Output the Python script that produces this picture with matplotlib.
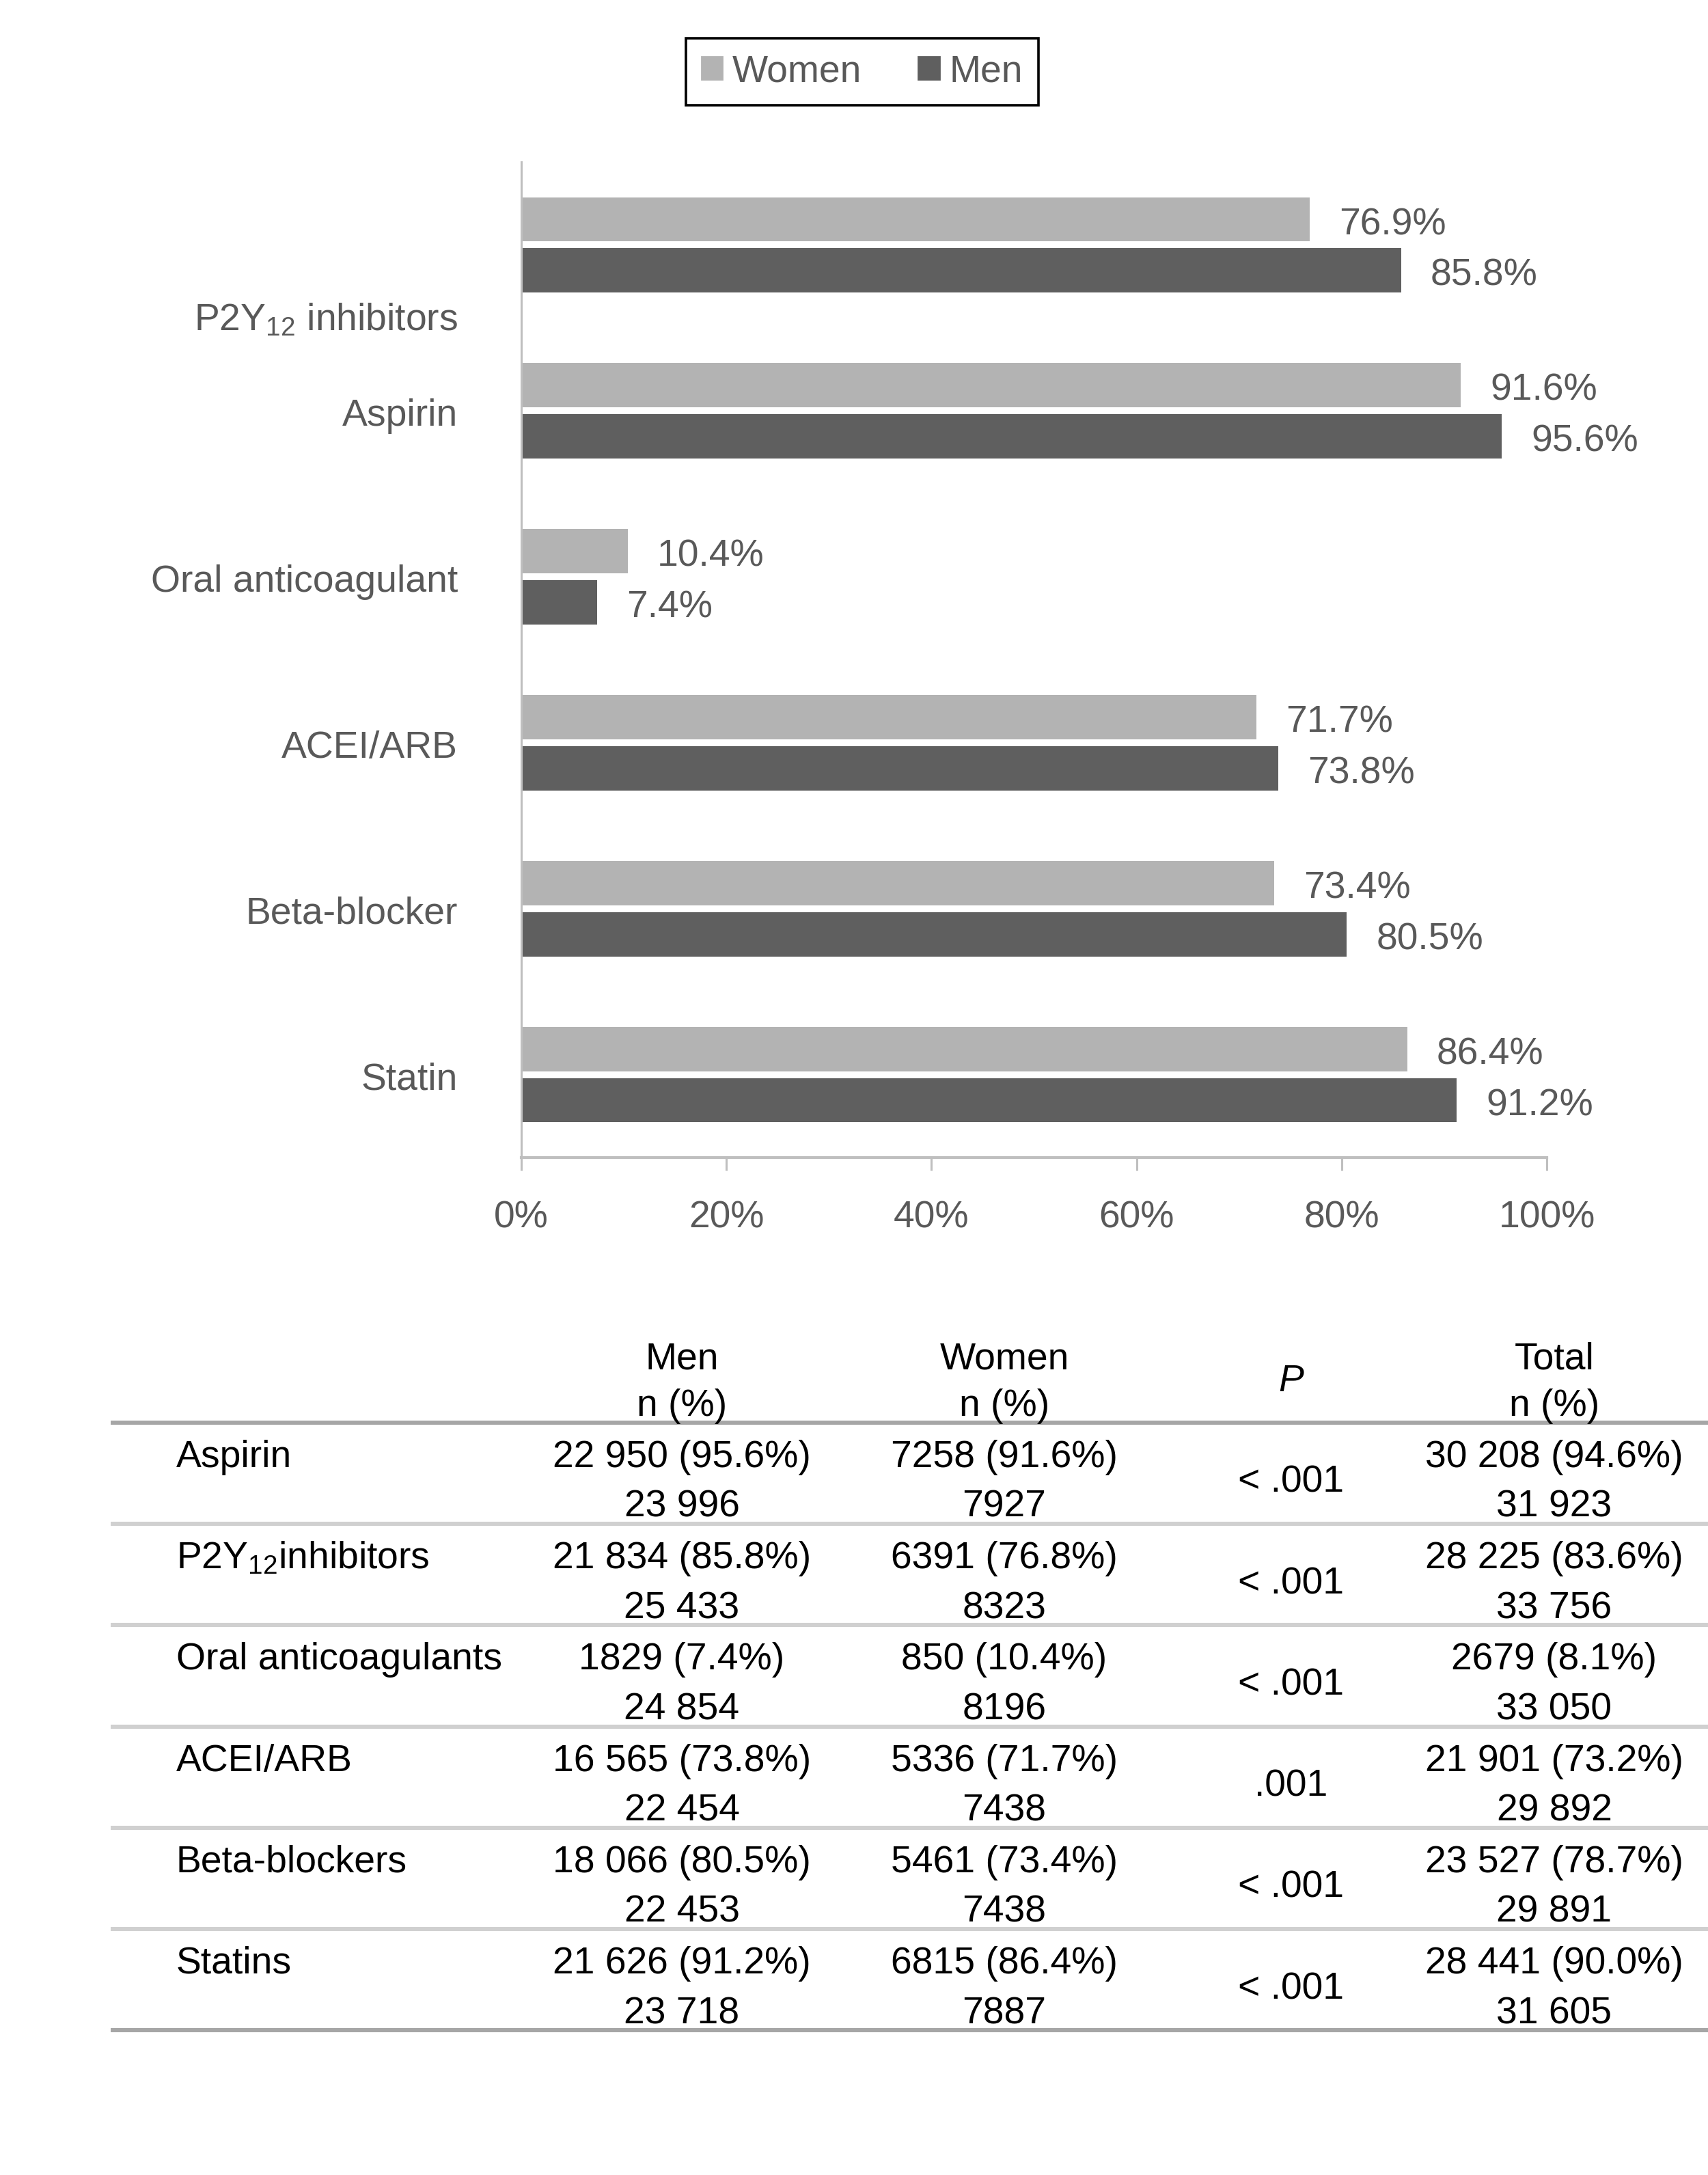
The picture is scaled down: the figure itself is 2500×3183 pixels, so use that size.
import numpy as np
import matplotlib.pyplot as plt
from matplotlib.patches import Patch

plt.rcParams['font.family'] = ['Liberation Sans', 'DejaVu Sans']
plt.rcParams['mathtext.fontset'] = 'custom'
plt.rcParams['mathtext.rm'] = 'Liberation Sans'
plt.rcParams['mathtext.it'] = 'Liberation Sans:italic'
plt.rcParams['mathtext.default'] = 'regular'

# bar chart data (top to bottom)
drugs = ["P2Y$_{12}$ inhibitors", "Aspirin", "Oral anticoagulant",
         "ACEI/ARB", "Beta-blocker", "Statin"]
women_pct = [76.9, 91.6, 10.4, 71.7, 73.4, 86.4]
men_pct = [85.8, 95.6, 7.4, 73.8, 80.5, 91.2]

# table data
tab_names = ["Aspirin", "P2Y$_{12}$inhibitors", "Oral anticoagulants",
             "ACEI/ARB", "Beta-blockers", "Statins"]
t_men_n = [22950, 21834, 1829, 16565, 18066, 21626]
t_men_p = [95.6, 85.8, 7.4, 73.8, 80.5, 91.2]
t_men_tot = [23996, 25433, 24854, 22454, 22453, 23718]
t_women_n = [7258, 6391, 850, 5336, 5461, 6815]
t_women_p = [91.6, 76.8, 10.4, 71.7, 73.4, 86.4]
t_women_tot = [7927, 8323, 8196, 7438, 7438, 7887]
t_all_n = [30208, 28225, 2679, 21901, 23527, 28441]
t_all_p = [94.6, 83.6, 8.1, 73.2, 78.7, 90.0]
t_all_tot = [31923, 33756, 33050, 29892, 29891, 31605]
p_vals = ["< .001", "< .001", "< .001", ".001", "< .001", "< .001"]

W, H = 2500, 3183
c_women = '#b3b3b3'
c_men = '#5f5f5f'
c_text = '#595959'
c_axis = '#bfbfbf'
fs = 19.9
dy = -2.9  # nudge labels down a little (points)

fig = plt.figure(figsize=(W / 200, H / 200), dpi=200)

ax = fig.add_axes([763 / W, 1 - 1694 / H, (2264 - 763) / W, (1694 - 237) / H])
y = np.arange(len(drugs))
ax.barh(y - 0.154, women_pct, height=0.267, color=c_women)
ax.barh(y + 0.154, men_pct, height=0.267, color=c_men)
ax.set_xlim(0, 100)
ax.set_ylim(len(drugs) - 0.5, -0.5)
ax.set_xticks(np.arange(0, 101, 20))
ax.set_xticklabels([f"{v}%" for v in range(0, 101, 20)])
ax.set_yticks([])
for s in ['top', 'right']:
    ax.spines[s].set_visible(False)
ax.spines['left'].set_color(c_axis)
ax.spines['left'].set_linewidth(1.1)
ax.spines['bottom'].set_color(c_axis)
ax.spines['bottom'].set_linewidth(1.5)
ax.tick_params(axis='x', direction='out', length=7, width=1.1, color=c_axis,
               labelcolor=c_text, labelsize=fs, pad=15.5)

for i, (w, m) in enumerate(zip(women_pct, men_pct)):
    ax.annotate(f"{w}%", (w, i - 0.154), xytext=(15.5, dy), textcoords='offset points',
                ha='left', va='center', fontsize=fs, color=c_text)
    ax.annotate(f"{m}%", (m, i + 0.154), xytext=(15.5, dy), textcoords='offset points',
                ha='left', va='center', fontsize=fs, color=c_text)

for i, name in enumerate(drugs):
    yy = i + 0.42 if i == 0 else i
    ax.annotate(name, (0, yy), xytext=(-33.5, dy), textcoords='offset points',
                ha='right', va='center', fontsize=fs, color=c_text,
                annotation_clip=False)

leg = fig.legend(handles=[Patch(color=c_women), Patch(color=c_men)],
                 labels=["Women", "Men"], loc='center',
                 bbox_to_anchor=(1262 / W, 1 - 105 / H), ncol=2,
                 fontsize=fs, labelcolor=c_text, frameon=True, fancybox=False,
                 edgecolor='black', framealpha=1, handlelength=0.55,
                 handleheight=0.55, handletextpad=0.27, columnspacing=1.5,
                 borderpad=0.42, borderaxespad=0)
leg.get_frame().set_linewidth(1.3)


def fmt(n):
    return f"{n:,}".replace(",", " ") if n >= 10000 else str(n)


# table drawn in pixel coordinates
tax = fig.add_axes([0, 0, 1, 1])
tax.set_xlim(0, W)
tax.set_ylim(H, 0)
tax.axis('off')
tfs = 19.9
off = 7  # pixel nudge downwards
col_x = [998, 1470, 1890, 2275]
for x, hd in zip([col_x[0], col_x[1], col_x[3]], ["Men", "Women", "Total"]):
    tax.text(x, 1982 + off, hd, ha='center', va='center', fontsize=tfs)
    tax.text(x, 2051 + off, "n (%)", ha='center', va='center', fontsize=tfs)
tax.text(col_x[2], 2015 + off, "P", ha='center', va='center', fontsize=tfs, fontstyle='italic')

row_h = 148.2
top = 2082
for i in range(len(tab_names) + 1):
    yl = top + i * row_h
    lc = '#a6a6a6' if i in (0, len(tab_names)) else '#d0d0d0'
    tax.plot([162, W], [yl, yl], color=lc, lw=2.2, solid_capstyle='butt')
for i, name in enumerate(tab_names):
    rt = top + i * row_h
    y1, y2 = rt + 44 + off, rt + 117 + off
    tax.text(258, y1, name, ha='left', va='center', fontsize=tfs)
    tax.text(col_x[0], y1, f"{fmt(t_men_n[i])} ({t_men_p[i]:.1f}%)", ha='center', va='center', fontsize=tfs)
    tax.text(col_x[0], y2, fmt(t_men_tot[i]), ha='center', va='center', fontsize=tfs)
    tax.text(col_x[1], y1, f"{fmt(t_women_n[i])} ({t_women_p[i]:.1f}%)", ha='center', va='center', fontsize=tfs)
    tax.text(col_x[1], y2, fmt(t_women_tot[i]), ha='center', va='center', fontsize=tfs)
    tax.text(col_x[2], rt + 81 + off, p_vals[i], ha='center', va='center', fontsize=tfs)
    tax.text(col_x[3], y1, f"{fmt(t_all_n[i])} ({t_all_p[i]:.1f}%)", ha='center', va='center', fontsize=tfs)
    tax.text(col_x[3], y2, fmt(t_all_tot[i]), ha='center', va='center', fontsize=tfs)

fig.savefig("out.png", dpi=200, facecolor='white')
